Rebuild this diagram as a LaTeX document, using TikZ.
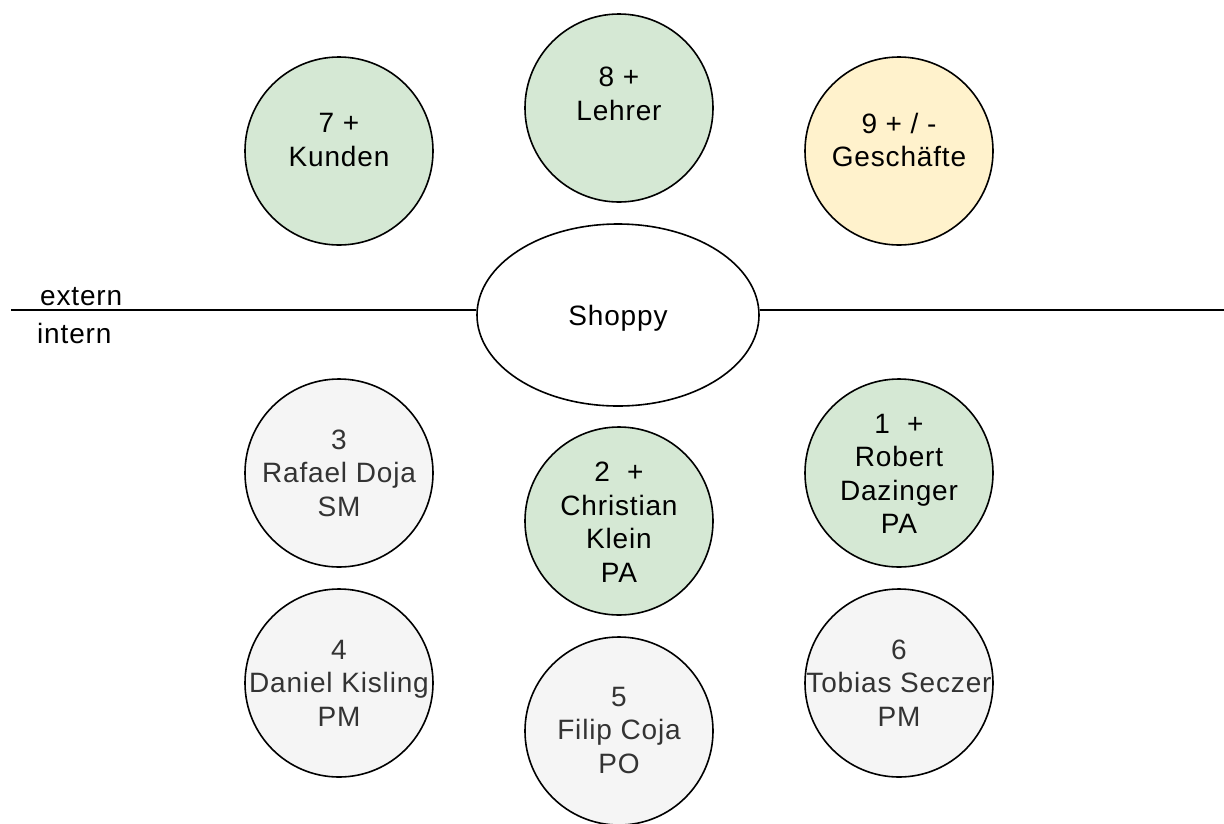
\documentclass[tikz,border=0pt]{standalone}
\usepackage{fontspec}
\setmainfont{Liberation Sans}[LetterSpace=3]
\usetikzlibrary{shapes.geometric}
\definecolor{gfill}{HTML}{D5E8D4}
\definecolor{yfill}{HTML}{FFF2CC}
\definecolor{pfill}{HTML}{F5F5F5}
\definecolor{ptext}{HTML}{333333}
\tikzset{
  disc/.style={circle, draw=black, line width=1.6pt, minimum size=188pt, inner sep=0pt},
  green/.style={disc, fill=gfill},
  yellow/.style={disc, fill=yfill},
  grey/.style={disc, fill=pfill},
  lbl/.style={align=center, inner sep=0pt, font=\fontsize{28}{33.5}\selectfont},
  glbl/.style={lbl, text=ptext},
}
\begin{document}
\begin{tikzpicture}[x=1pt,y=-1pt]
\useasboundingbox (0,0) rectangle (1224,823);
% external
\node[green]  (c7) at (339,151) {};
\node[lbl]    (t7) at (339,140) {7 +\\Kunden};
\node[green]  (c8) at (619,108) {};
\node[lbl]    (t8) at (619,94) {8 +\\Lehrer};
\node[yellow] (c9) at (899,151) {};
\node[lbl]    (t9) at (899,140) {9 + / -\\Geschäfte};
% divider
\coordinate (L) at (11,310);
\coordinate (R) at (1224,310);
\node[ellipse, draw=black, line width=1.6pt, fill=white, minimum width=282pt, minimum height=182pt, inner sep=0pt] (shoppy) at (618,315) {};
\node[lbl, anchor=base] (ts) at (618,325) {Shoppy};
\draw[line width=2.4pt] (L) -- (shoppy.west |- L);
\draw[line width=2.4pt] (shoppy.east |- R) -- (R);
\node[lbl, anchor=base west] (ext) at (40,305) {extern};
\node[lbl, anchor=base west] (int) at (37,343) {intern};
% internal
\node[grey]  (c3) at (339,473) {};
\node[glbl]  (t3) at (339,473) {3\\Rafael Doja\\SM};
\node[green] (c2) at (619,521) {};
\node[lbl]   (t2) at (619,522) {2\ \ +\\Christian\\Klein\\PA};
\node[green] (c1) at (899,473) {};
\node[lbl]   (t1) at (899,474) {1\ \ +\\Robert\\Dazinger\\PA};
\node[grey]  (c4) at (339,683) {};
\node[glbl]  (t4) at (339,683) {4\\Daniel Kisling\\PM};
\node[grey]  (c5) at (619,731) {};
\node[glbl]  (t5) at (619,730) {5\\Filip Coja\\PO};
\node[grey]  (c6) at (899,683) {};
\node[glbl]  (t6) at (899,683) {6\\Tobias Seczer\\PM};
\end{tikzpicture}
\end{document}
